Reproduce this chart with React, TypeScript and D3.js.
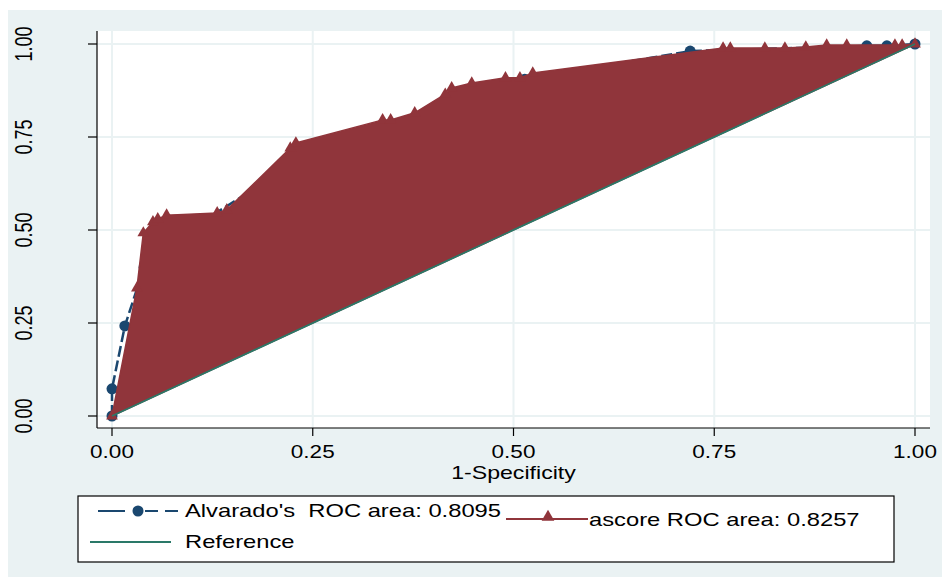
import React from 'react'
import * as d3 from 'd3'

// Alvarado's score ROC points (1-specificity, sensitivity)
const alvFpr = [0, 0, 0.016, 0.04, 0.07, 0.2, 0.3, 0.4, 0.514, 0.72, 0.94, 0.965, 1]
const alvTpr = [0, 0.073, 0.242, 0.4, 0.466, 0.641, 0.74, 0.82, 0.905, 0.981, 0.995, 0.995, 1]

// ascore ROC points
const ascFpr = [0, 0.031, 0.039, 0.051, 0.057, 0.068, 0.131, 0.143, 0.222, 0.229, 0.337, 0.347, 0.377, 0.415, 0.423, 0.448, 0.49, 0.508, 0.524, 0.761, 0.77, 0.813, 0.838, 0.864, 0.89, 0.915, 0.975, 0.984, 1]
const ascTpr = [0, 0.344, 0.492, 0.522, 0.53, 0.54, 0.546, 0.554, 0.72, 0.734, 0.796, 0.796, 0.815, 0.865, 0.882, 0.895, 0.909, 0.909, 0.922, 0.989, 0.989, 0.989, 0.989, 0.992, 0.997, 0.997, 0.997, 0.997, 1]

const refLine = [0, 1]
const ticks = [0, 0.25, 0.5, 0.75, 1]
const tickLabels = ['0.00', '0.25', '0.50', '0.75', '1.00']

const legendAlv = "Alvarado's  ROC area: 0.8095"
const legendAsc = 'ascore ROC area: 0.8257'
const legendRef = 'Reference'
const xTitle = '1-Specificity'

const W = 942
const H = 577
const navy = '#1a476f'
const maroon = '#90353b'
const teal = '#2a7868'
const bg = '#eaf2f3'
const font = "'Liberation Sans', Arial, sans-serif"
const sx = 1.25

export default function App() {
  const x = d3.scaleLinear().domain([0, 1]).range([112, 915])
  const y = d3.scaleLinear().domain([0, 1]).range([416, 44])
  const plot = { left: 97, top: 31, right: 930, bottom: 428 }

  const alv = alvFpr.map((f, i) => [f, alvTpr[i]] as [number, number])
  const asc = ascFpr.map((f, i) => [f, ascTpr[i]] as [number, number])

  const line = d3.line<[number, number]>().x(d => x(d[0])).y(d => y(d[1]))
  const tri = d3.symbol().type(d3.symbolTriangle).size(60)()
  const triLegend = d3.symbol().type(d3.symbolTriangle).size(70)()

  const txt = (s: string, tx: number, ty: number, size: number, anchor: string) => (
    <text
      transform={`translate(${tx},${ty}) scale(${sx},1)`}
      textAnchor={anchor}
      dominantBaseline="central"
      fontSize={size}
      fontFamily={font}
      fill="#000"
      style={{ whiteSpace: 'pre' }}
    >{s}</text>
  )

  return (
    <svg width={W} height={H} style={{ position: 'absolute', left: 0, top: 0, background: '#fff' }}>
      <rect x={8} y={10} width={W - 8} height={H - 10} fill={bg} />
      <rect x={plot.left} y={plot.top} width={plot.right - plot.left} height={plot.bottom - plot.top} fill="#fff" />

      {/* grid */}
      {ticks.map(t => (
        <g key={'g' + t}>
          <line x1={x(t)} x2={x(t)} y1={plot.top} y2={plot.bottom} stroke={bg} strokeWidth={2} />
          <line x1={plot.left} x2={plot.right} y1={y(t)} y2={y(t)} stroke={bg} strokeWidth={2} />
        </g>
      ))}

      {/* Alvarado's curve */}
      <path d={line(alv) || ''} fill="none" stroke={navy} strokeWidth={2.5} strokeDasharray="11 4" />
      {alv.map((d, i) => (
        <circle key={'a' + i} cx={x(d[0])} cy={y(d[1])} r={5.5} fill={navy} />
      ))}

      {/* ascore curve, drawn as closed area */}
      <path d={(line(asc) || '') + 'Z'} fill={maroon} stroke={maroon} strokeWidth={1.5} />
      {asc.map((d, i) => (
        <path key={'t' + i} d={tri || ''} transform={`translate(${x(d[0])},${y(d[1])})`} fill={maroon} />
      ))}

      {/* reference line */}
      <line x1={x(refLine[0])} y1={y(refLine[0])} x2={x(refLine[1])} y2={y(refLine[1])} stroke={teal} strokeWidth={1.8} />

      {/* axes */}
      <line x1={plot.left} x2={plot.left} y1={plot.top} y2={plot.bottom} stroke="#000" strokeWidth={1.2} />
      <line x1={plot.left} x2={plot.right} y1={plot.bottom} y2={plot.bottom} stroke="#000" strokeWidth={1.2} />
      {ticks.map((t, i) => (
        <g key={'yt' + t}>
          <line x1={plot.left - 9} x2={plot.left} y1={y(t)} y2={y(t)} stroke="#000" strokeWidth={1.2} />
          <text
            transform={`translate(24,${y(t)}) scale(1.35,1) rotate(-90)`}
            textAnchor="middle"
            dominantBaseline="central"
            fontSize={18}
            fontFamily={font}
          >{tickLabels[i]}</text>
        </g>
      ))}
      {ticks.map((t, i) => (
        <g key={'xt' + t}>
          <line x1={x(t)} x2={x(t)} y1={plot.bottom} y2={plot.bottom + 8} stroke="#000" strokeWidth={1.2} />
          {txt(tickLabels[i], x(t), 452, 18, 'middle')}
        </g>
      ))}
      {txt(xTitle, (x(0) + x(1)) / 2, 472, 18.5, 'middle')}

      {/* legend */}
      <rect x={78} y={496} width={816} height={66} fill="#fff" stroke="#000" strokeWidth={1.2} />
      <line x1={98} x2={178} y1={511} y2={511} stroke={navy} strokeWidth={2} strokeDasharray="27 20 13 7 13" />
      <circle cx={138} cy={511} r={5.5} fill={navy} />
      {txt(legendAlv, 185, 511, 19, 'start')}
      <line x1={506} x2={588} y1={519} y2={519} stroke={maroon} strokeWidth={2} />
      <path d={triLegend || ''} transform={`translate(548,517)`} fill={maroon} />
      {txt(legendAsc, 589, 520, 19, 'start')}
      <line x1={90} x2={171} y1={542} y2={542} stroke={teal} strokeWidth={2} />
      {txt(legendRef, 185, 542, 19, 'start')}
    </svg>
  )
}
